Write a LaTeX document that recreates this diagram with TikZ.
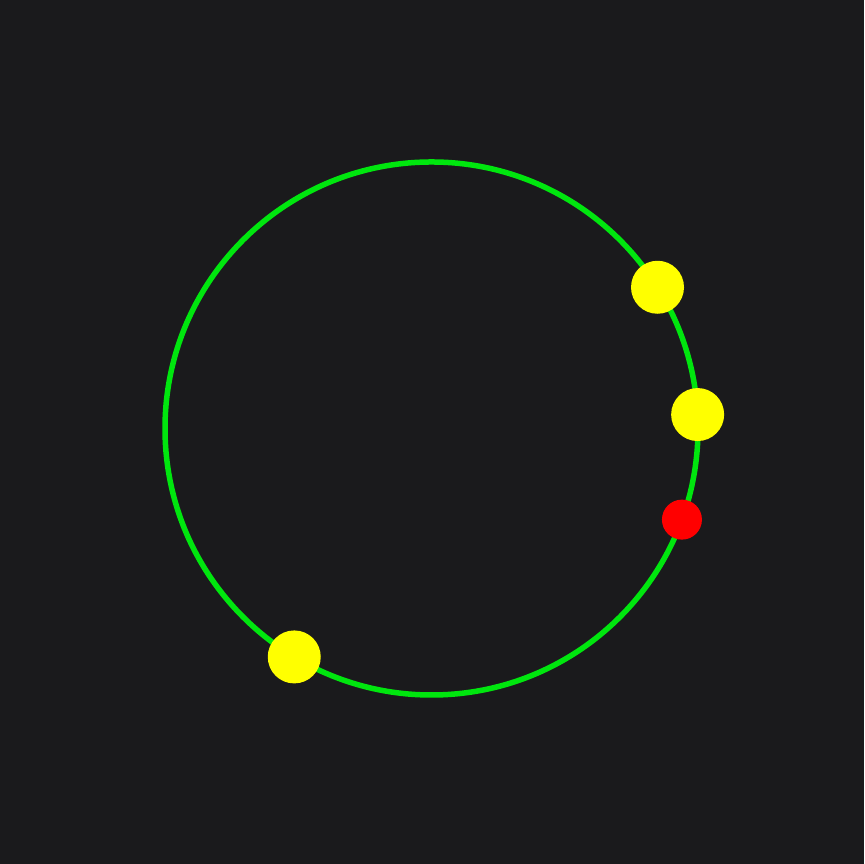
\documentclass[tikz,border=0pt]{standalone}
\usepackage{tikz}
\usetikzlibrary{positioning}
\definecolor{bg}{HTML}{1A1A1C}
\definecolor{ringgreen}{HTML}{00E60E}
\definecolor{dotyellow}{HTML}{FFFF00}
\definecolor{dotred}{HTML}{FF0000}
\begin{document}
\begin{tikzpicture}[
    ring/.style={circle, draw=ringgreen, line width=0.055cm, minimum size=5.33cm, inner sep=0pt, outer sep=0pt},
    bead/.style={circle, fill=dotyellow, minimum size=0.53cm, inner sep=0pt},
    redbead/.style={circle, fill=dotred, minimum size=0.40cm, inner sep=0pt}
  ]
    \useasboundingbox (0,0) rectangle (8.64,8.64);
    \fill[bg] (0,0) rectangle (8.64,8.64);

    \node[ring] (track) at (4.315,4.355) {};

    % beads on the track
    \node[bead] (b1) at (track.32.7) {};
    \node[bead] (b2) at (track.3.3) {};
    \node[redbead] (r1) at (track.-20.2) {};
    \node[bead] (b3) at (track.239.2) {};
  \end{tikzpicture}
\end{document}
